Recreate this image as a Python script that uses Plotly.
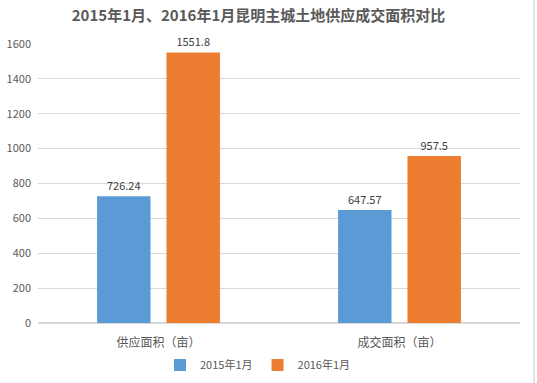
import plotly.graph_objects as go

categories = ["供应面积（亩）", "成交面积（亩）"]
series_names = ["2015年1月", "2016年1月"]
values_2015 = [726.24, 647.57]
values_2016 = [1551.8, 957.5]
labels_2015 = ["726.24", "647.57"]
labels_2016 = ["1551.8", "957.5"]
colors = ["#5B9BD5", "#ED7D31"]
y_ticks = [0, 200, 400, 600, 800, 1000, 1200, 1400, 1600]

font_family = "Microsoft YaHei, Noto Sans CJK SC, sans-serif"

W, H = 537, 383

fig = go.Figure()
for name, vals, labs, col in zip(series_names, [values_2015, values_2016],
                                 [labels_2015, labels_2016], colors):
    fig.add_trace(go.Bar(
        x=categories, y=vals, name=name, marker=dict(color=col, line=dict(width=0)),
        text=labs, textposition="outside", cliponaxis=False,
        textfont=dict(size=11, color="#404040", family=font_family),
    ))

fig.update_layout(
    width=W, height=H,
    margin=dict(l=37.5, r=16.5, t=44, b=60, autoexpand=False),
    paper_bgcolor="white", plot_bgcolor="white",
    barmode="group", bargap=0.424, bargroupgap=0.23,
    title=dict(text="<b>2015年1月、2016年1月昆明主城土地供应成交面积对比</b>",
               x=258.5 / W, xanchor="center", xref="container",
               y=1 - 16 / H, yanchor="middle", yref="container",
               font=dict(size=15, color="#595959", family=font_family)),
    font=dict(family=font_family, color="#595959", size=11),
    legend=dict(orientation="h", x=258 / W, xanchor="center", xref="container",
                y=18 / H, yanchor="middle", yref="container",
                font=dict(size=11, color="#595959"), itemwidth=30,
                traceorder="normal"),
    showlegend=True,
)
fig.update_yaxes(range=[0, 1600], tickvals=y_ticks, showgrid=True,
                 gridcolor="#D9D9D9", gridwidth=1, zeroline=True,
                 zerolinecolor="#D9D9D9", showline=False,
                 tickfont=dict(size=11, color="#595959"), ticklen=0,
                 ticklabelstandoff=6)
fig.update_xaxes(showline=True, linecolor="#D9D9D9", ticks="",
                 tickfont=dict(size=12, color="#595959"),
                 ticklabelstandoff=9)

fig.add_shape(type="line", xref="paper", yref="paper", x0=1.029, x1=1.029,
              y0=-0.3, y1=1.2, line=dict(color="#C8C8C8", width=1))

fig.write_html("out.html",
               config={"displayModeBar": False},
               post_script="document.body.style.margin='0';")
